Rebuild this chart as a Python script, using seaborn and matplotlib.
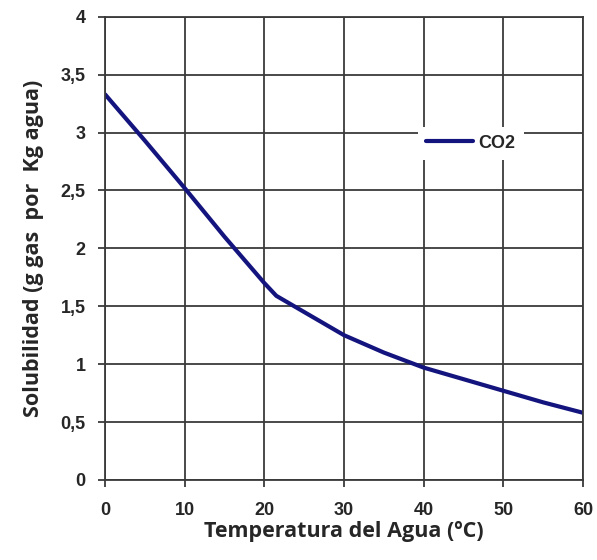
import matplotlib
matplotlib.use("Agg")
import matplotlib.pyplot as plt
import seaborn as sns
import pandas as pd

# Solubility of CO2 in water versus temperature
temperatura = [0, 5, 10, 15, 20, 21.5, 25, 30, 35, 40, 45, 50, 55, 60]
solubilidad = [3.33, 2.93, 2.52, 2.10, 1.70, 1.59, 1.45, 1.25, 1.10, 0.97, 0.87, 0.77, 0.67, 0.58]
serie = "CO2"

x_ticks = [0, 10, 20, 30, 40, 50, 60]
y_ticks = [0, 0.5, 1, 1.5, 2, 2.5, 3, 3.5, 4]
y_tick_labels = ["0", "0,5", "1", "1,5", "2", "2,5", "3", "3,5", "4"]

df = pd.DataFrame({"Temperatura": temperatura, "Solubilidad": solubilidad, "Gas": serie})

sns.set_theme(style="white")
plt.rcParams["font.family"] = ["Liberation Sans", "DejaVu Sans"]

fig = plt.figure(figsize=(5.97, 5.60), dpi=100)
ax = fig.add_axes([0.176, 0.143, 0.8005, 0.827])

sns.lineplot(data=df, x="Temperatura", y="Solubilidad", hue="Gas",
             palette=["#14147f"], linewidth=3.0, ax=ax)

ax.set_xlim(0, 60)
ax.set_ylim(0, 4)
ax.set_xticks(x_ticks)
ax.set_xticklabels([str(t) for t in x_ticks])
ax.set_yticks(y_ticks)
ax.set_yticklabels(y_tick_labels)

ax.grid(True, color="#3a3a3a", linewidth=1.3)
ax.set_axisbelow(True)
for sp in ax.spines.values():
    sp.set_color("#3a3a3a")
    sp.set_linewidth(1.3)

ax.tick_params(axis="both", which="both", direction="out", length=5, width=1.3,
               color="#3a3a3a", labelsize=13)
ax.tick_params(axis="x", bottom=True, pad=11)
ax.tick_params(axis="y", left=True, pad=9)
for lab in ax.get_xticklabels() + ax.get_yticklabels():
    lab.set_fontweight("bold")

ax.set_xlabel("Temperatura del Agua (ºC)", fontsize=15.5, fontweight="bold",
              family=["Open Sans", "DejaVu Sans"], labelpad=1)
ax.set_ylabel("Solubilidad (g gas  por  Kg agua)", fontsize=15.5, fontweight="bold",
              family=["Open Sans", "DejaVu Sans"], labelpad=12)

leg = ax.legend(loc="center left", bbox_to_anchor=(0.655, 0.727), frameon=True,
                framealpha=1.0, edgecolor="white", facecolor="white",
                handlelength=2.6, handletextpad=0.3, borderpad=0.45,
                borderaxespad=0.0, prop={"weight": "bold", "size": 13})
leg.get_frame().set_linewidth(0)
for h in leg.get_lines():
    h.set_linewidth(3.0)

fig.savefig("out.png", dpi=100)
